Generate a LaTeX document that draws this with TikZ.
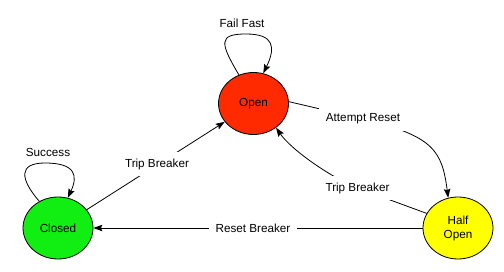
\documentclass[tikz,border=0pt]{standalone}
\usepackage{fontspec}
\setmainfont{Liberation Sans}
\usetikzlibrary{shapes.geometric,arrows.meta}
\definecolor{openred}{HTML}{FF2A00}
\definecolor{closedgreen}{HTML}{11EE11}
\definecolor{halfyellow}{HTML}{FFFF00}
\begin{document}
\begin{tikzpicture}[x=1pt,y=1pt,
  every node/.style={font=\fontsize{11.7}{14}\selectfont},
  state/.style={ellipse, draw, line width=0.8pt, minimum width=70pt, minimum height=62pt, inner sep=0pt, align=center},
  lbl/.style={fill=white, inner xsep=7pt, inner ysep=6.5pt},
  looplbl/.style={inner sep=2pt},
  arr/.style={line width=0.8pt, -{Stealth[length=9pt,width=6.5pt,inset=1.5pt]}}
]
\fill[white] (0,0) rectangle (504,271);
\useasboundingbox (0,0) rectangle (504,271);

\node[state, fill=openred] (Open) at (253.5,167.5) {Open};
\node[state, fill=closedgreen] (Closed) at (58,43) {Closed};
\node[state, fill=halfyellow] (Half) at (458,43) {Half\\Open};

\coordinate (arC) at (363,152);
\coordinate (tbC) at (357.5,83);

% loops
\draw[arr] (Open.117) .. controls (220,228) and (218,237) .. (246,237)
  .. controls (274,237) and (276,224) .. (Open.72);
\draw[arr] (Closed.125) .. controls (20,92) and (18,108) .. (45,108)
  .. controls (76,108) and (78,95) .. (Closed.72);

% edges
\draw[arr] (Closed) -- (Open);
\draw[arr] (Open.3) -- (arC) .. controls (433,135) and (442,121) .. (Half.108);
\draw[arr] (Half.155) -- (tbC) .. controls (330,94) and (291,121.5) .. (Open.-47);
\draw[arr] (Half) -- (Closed);

% labels
\node[looplbl] (lFail) at (242,248) {Fail Fast};
\node[looplbl] (lSucc) at (48,119) {Success};
\node[lbl] (lTrip1) at (157,107) {Trip Breaker};
\node[lbl] (lAtt) at (arC) {Attempt Reset};
\node[lbl] (lTrip2) at (tbC) {Trip Breaker};
\node[lbl] (lReset) at (253,43) {Reset Breaker};
\end{tikzpicture}
\end{document}
